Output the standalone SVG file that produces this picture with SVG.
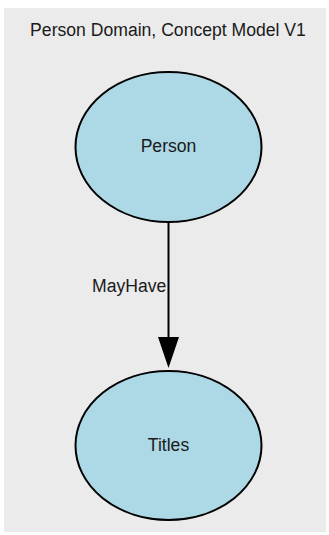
<svg xmlns="http://www.w3.org/2000/svg" width="329" height="535" viewBox="0 0 329 535">
<defs>
<style>
.node{fill:#add8e6;stroke:#000;stroke-width:2}
.lbl{font-family:"Liberation Sans",Arial,sans-serif;font-size:17.6px;fill:#1a1a1a}
.edge{stroke:#000;stroke-width:2;fill:none}
</style>
</defs>
<rect x="4" y="8" width="322" height="524" fill="#ebebeb"/>
<text class="lbl" x="168" y="36" text-anchor="middle">Person Domain, Concept Model V1</text>
<g id="connectors">
<line class="edge" x1="168.5" y1="222" x2="168.5" y2="340"/>
<path d="M158,337 L179,337 L168.5,368 Z" fill="#000"/>
<text class="lbl" x="92" y="292">MayHave</text>
</g>
<g id="person">
<ellipse class="node" cx="168.5" cy="147" rx="93" ry="75"/>
<text class="lbl" x="168.5" y="152" text-anchor="middle">Person</text>
</g>
<g id="titles">
<ellipse class="node" cx="168.5" cy="445.5" rx="93" ry="74.5"/>
<text class="lbl" x="168.5" y="451" text-anchor="middle">Titles</text>
</g>
</svg>
